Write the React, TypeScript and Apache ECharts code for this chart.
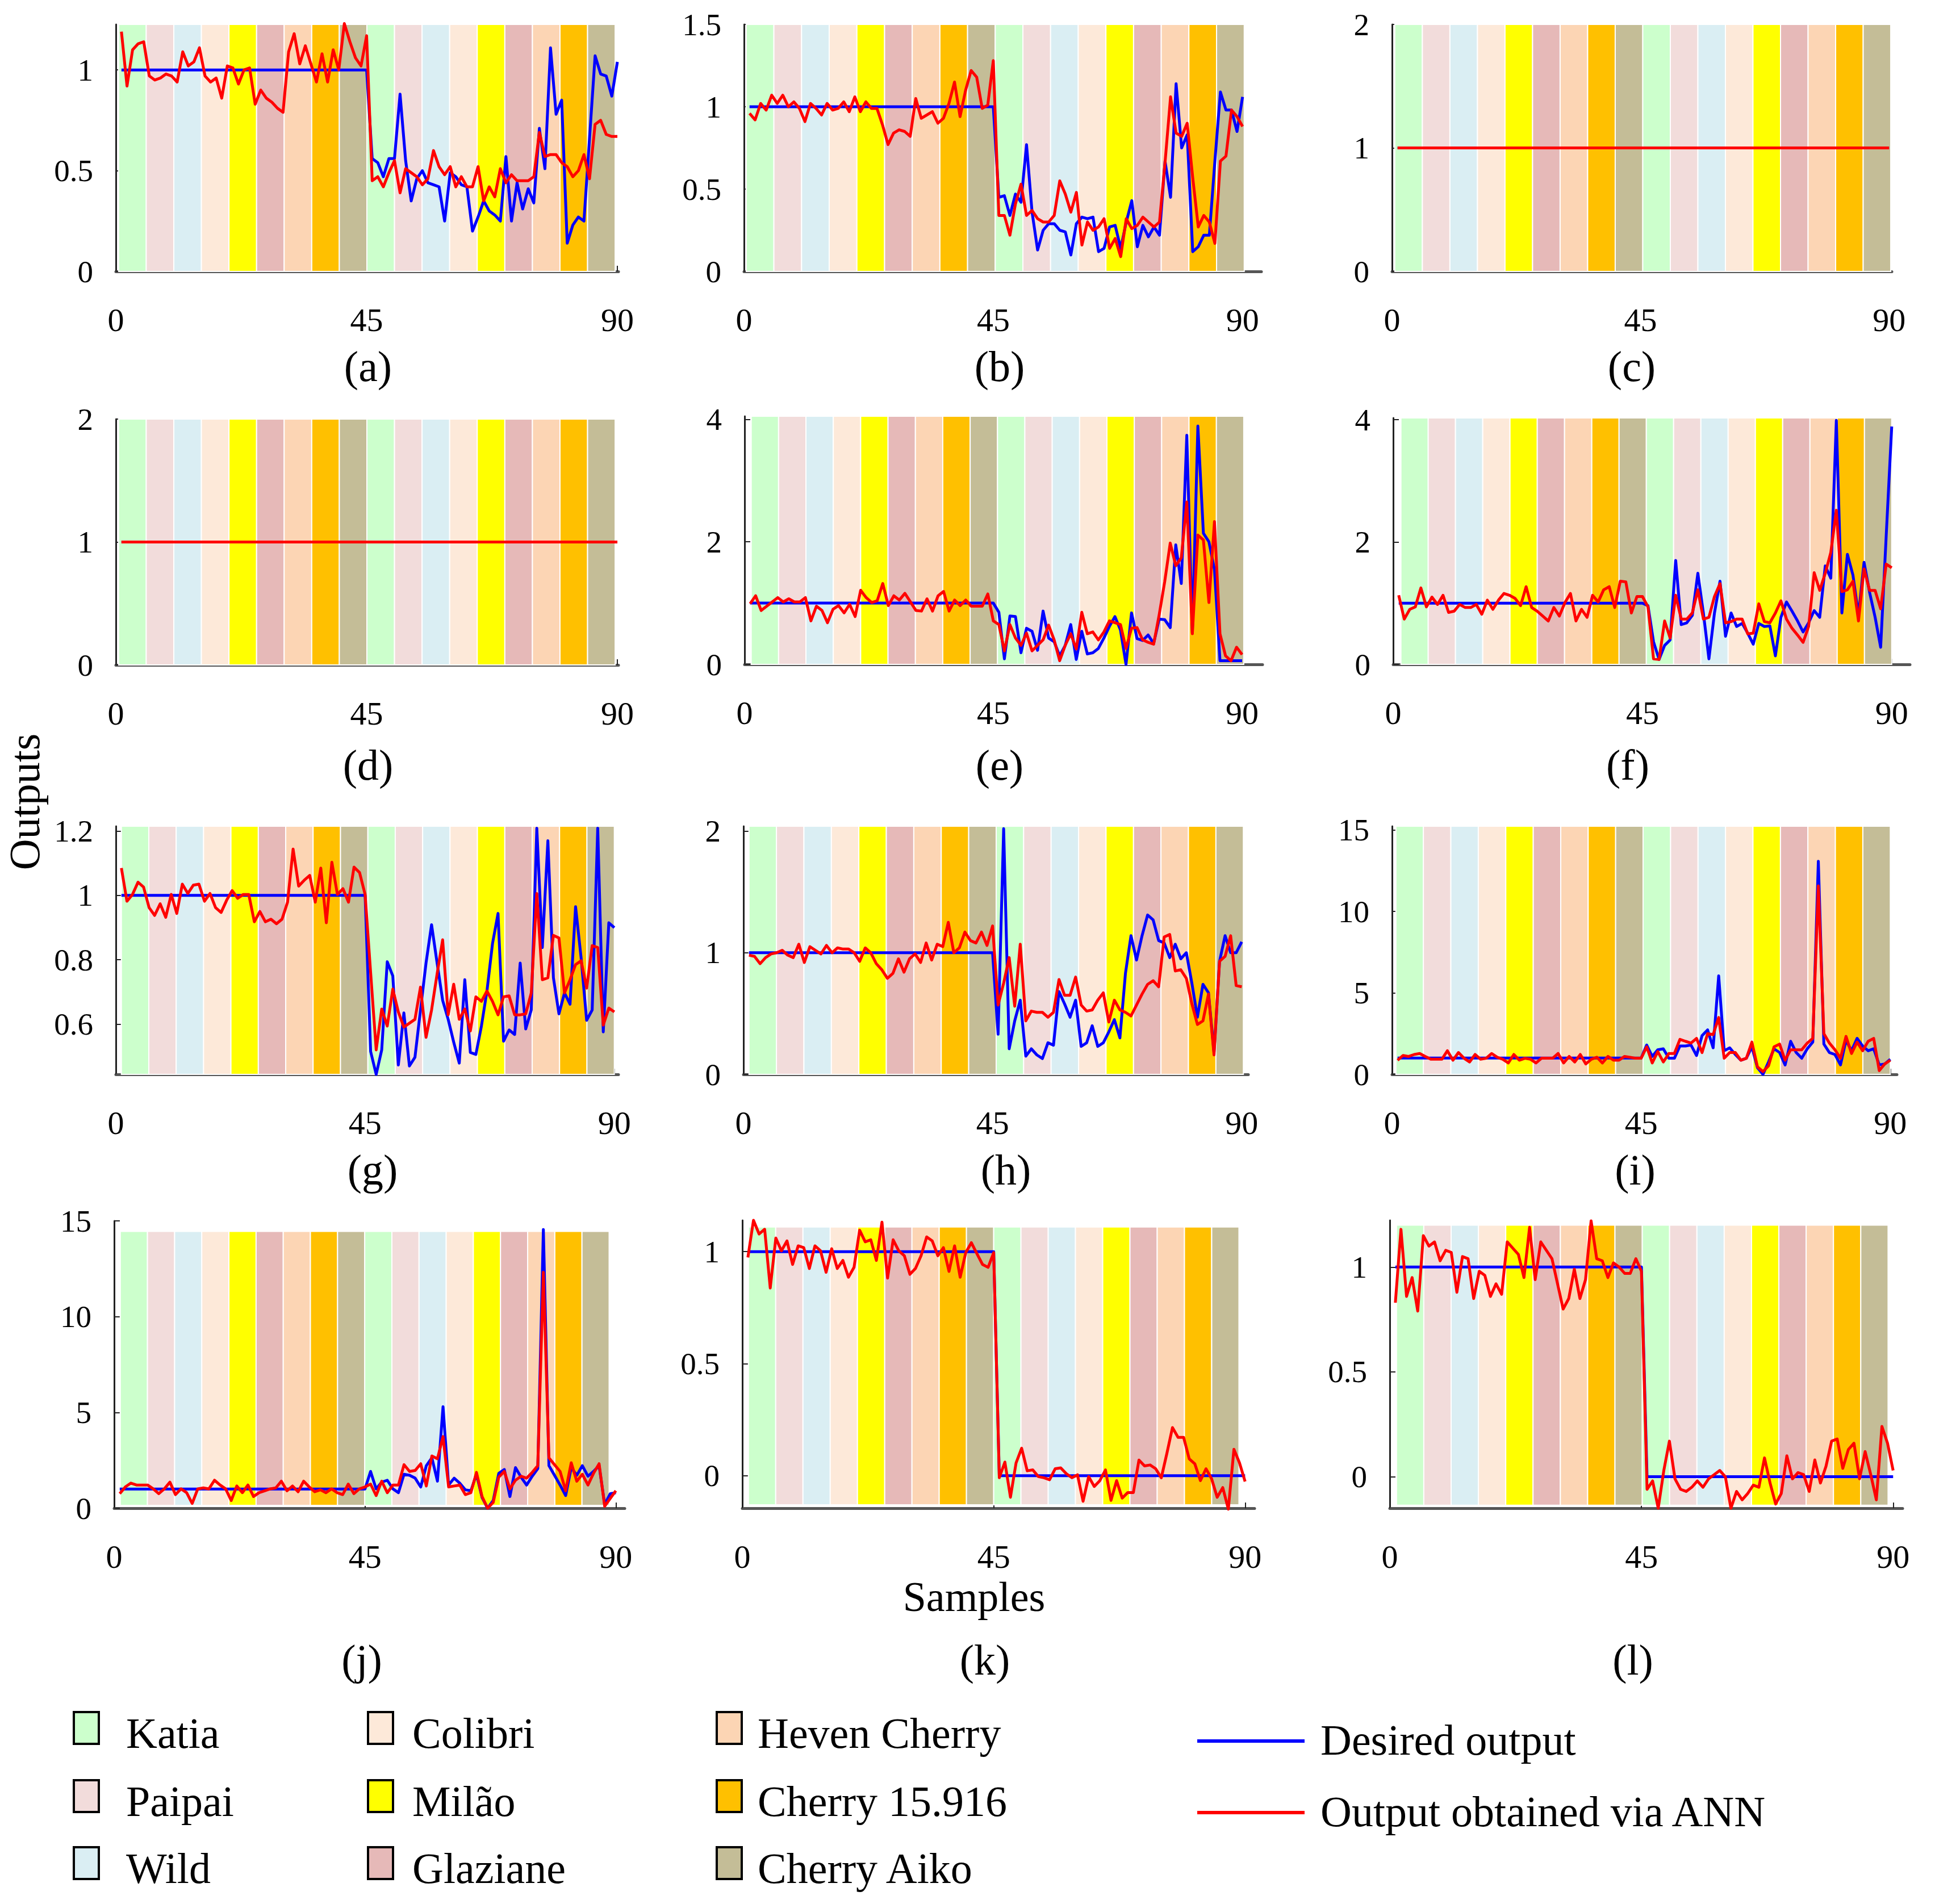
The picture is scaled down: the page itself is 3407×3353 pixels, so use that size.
import React, { useEffect, useRef } from 'react';
import * as echarts from 'echarts';

const FONT = "'Liberation Serif', 'Times New Roman', Times, serif";

const CULTIVARS = ['Katia', 'Paipai', 'Wild', 'Colibri', 'Milão', 'Glaziane', 'Heven Cherry', 'Cherry 15.916', 'Cherry Aiko'];
const BAND_COLORS = ['#CCFFCC', '#F2DCDB', '#DAEEF3', '#FDE9D9', '#FFFF00', '#E6B9B8', '#FCD5B4', '#FFC000', '#C4BD97'];
const SERIES_NAMES = ['Desired output', 'Output obtained via ANN'];
const PANEL_LABELS = ['(a)', '(b)', '(c)', '(d)', '(e)', '(f)', '(g)', '(h)', '(i)', '(j)', '(k)', '(l)'];
const X_TICKS = [0, 45, 90];
const Y_TICKS = [
  [0, 0.5, 1], [0, 0.5, 1, 1.5], [0, 1, 2],
  [0, 1, 2], [0, 2, 4], [0, 2, 4],
  [0.6, 0.8, 1, 1.2], [0, 1, 2], [0, 5, 10, 15],
  [0, 5, 10, 15], [0, 0.5, 1], [0, 0.5, 1],
];

const ONES_45 = [
  1, 1, 1, 1, 1, 1, 1, 1, 1, 1,
  1, 1, 1, 1, 1, 1, 1, 1, 1, 1,
  1, 1, 1, 1, 1, 1, 1, 1, 1, 1,
  1, 1, 1, 1, 1, 1, 1, 1, 1, 1,
  1, 1, 1, 1, 1,
];
const ZEROS_45 = [
  0, 0, 0, 0, 0, 0, 0, 0, 0, 0,
  0, 0, 0, 0, 0, 0, 0, 0, 0, 0,
  0, 0, 0, 0, 0, 0, 0, 0, 0, 0,
  0, 0, 0, 0, 0, 0, 0, 0, 0, 0,
  0, 0, 0, 0, 0,
];

// (a)
const DESIRED_A = ONES_45.concat([
  0.56, 0.54, 0.47, 0.56, 0.56, 0.88, 0.55, 0.35, 0.46, 0.50,
  0.44, 0.43, 0.42, 0.25, 0.49, 0.47, 0.43, 0.42, 0.20, 0.27,
  0.35, 0.30, 0.28, 0.25, 0.57, 0.25, 0.44, 0.31, 0.41, 0.34,
  0.71, 0.51, 1.11, 0.78, 0.85, 0.14, 0.23, 0.27, 0.25, 0.66,
  1.07, 0.98, 0.97, 0.87, 1.04,
]);
const ANN_A = [
  1.19, 0.92, 1.10, 1.13, 1.14, 0.97, 0.95, 0.96, 0.98, 0.97,
  0.94, 1.09, 1.02, 1.04, 1.11, 0.97, 0.94, 0.96, 0.86, 1.02,
  1.01, 0.93, 1.00, 1.01, 0.83, 0.90, 0.86, 0.84, 0.81, 0.79,
  1.09, 1.18, 1.03, 1.12, 1.03, 0.94, 1.08, 0.94, 1.10, 1.00,
  1.23, 1.14, 1.06, 1.02, 1.17,
  0.45, 0.47, 0.42, 0.49, 0.55, 0.39, 0.51, 0.49, 0.47, 0.43,
  0.46, 0.60, 0.52, 0.48, 0.52, 0.42, 0.47, 0.42, 0.42, 0.52,
  0.35, 0.42, 0.37, 0.51, 0.44, 0.48, 0.45, 0.45, 0.45, 0.47,
  0.69, 0.57, 0.58, 0.58, 0.54, 0.52, 0.47, 0.50, 0.58, 0.46,
  0.73, 0.75, 0.68, 0.67, 0.67,
];

// (b)
const DESIRED_B = ONES_45.concat([
  0.45, 0.46, 0.34, 0.47, 0.42, 0.77, 0.36, 0.13, 0.25, 0.29,
  0.29, 0.25, 0.24, 0.10, 0.29, 0.33, 0.32, 0.33, 0.12, 0.14,
  0.27, 0.28, 0.14, 0.30, 0.43, 0.15, 0.28, 0.21, 0.27, 0.22,
  0.67, 0.45, 1.14, 0.75, 0.83, 0.12, 0.15, 0.22, 0.22, 0.67,
  1.09, 0.98, 0.98, 0.85, 1.06,
]);
const ANN_B = [
  0.96, 0.92, 1.02, 0.98, 1.07, 1.02, 1.07, 1.00, 1.03, 0.99,
  0.91, 1.02, 0.99, 0.95, 1.02, 0.98, 0.99, 1.03, 0.97, 1.06,
  0.97, 1.03, 0.99, 0.99, 0.89, 0.77, 0.84, 0.86, 0.85, 0.82,
  1.05, 0.93, 0.95, 0.97, 0.90, 0.93, 1.02, 1.15, 0.94, 1.10,
  1.22, 1.18, 0.99, 1.01, 1.28,
  0.34, 0.34, 0.22, 0.41, 0.53, 0.34, 0.37, 0.32, 0.30, 0.30,
  0.34, 0.55, 0.47, 0.36, 0.48, 0.16, 0.30, 0.25, 0.27, 0.32,
  0.14, 0.20, 0.09, 0.32, 0.26, 0.28, 0.33, 0.30, 0.27, 0.30,
  0.66, 1.06, 0.84, 0.82, 0.90, 0.57, 0.27, 0.34, 0.30, 0.17,
  0.67, 0.70, 0.98, 0.94, 0.88,
];

// (c), (d)
const DESIRED_C = ONES_45.concat(ONES_45);
const ANN_C = ONES_45.concat(ONES_45);
const DESIRED_D = ONES_45.concat(ONES_45);
const ANN_D = ONES_45.concat(ONES_45);

// (e)
const DESIRED_E = ONES_45.concat([
  0.85, 0.09, 0.79, 0.78, 0.19, 0.59, 0.54, 0.23, 0.87, 0.43,
  0.37, 0.14, 0.31, 0.65, 0.08, 0.54, 0.17, 0.19, 0.26, 0.43,
  0.62, 0.78, 0.56, 0.00, 0.84, 0.42, 0.39, 0.48, 0.34, 0.74,
  0.73, 0.60, 1.95, 1.32, 3.74, 0.51, 3.89, 2.14, 2.00, 1.55,
  0.06, 0.06, 0.06, 0.06, 0.06,
]);
const ANN_E = [
  0.99, 1.12, 0.88, 0.95, 1.02, 1.09, 1.02, 1.07, 1.02, 1.02,
  1.09, 0.71, 0.95, 0.88, 0.68, 0.90, 0.96, 0.84, 0.98, 0.78,
  1.21, 1.09, 1.01, 1.04, 1.32, 0.96, 1.12, 1.05, 1.16, 1.02,
  0.88, 0.87, 1.07, 0.87, 1.12, 1.19, 0.87, 1.05, 0.96, 1.05,
  0.95, 0.95, 0.95, 1.15, 0.71,
  0.65, 0.22, 0.65, 0.43, 0.31, 0.51, 0.22, 0.31, 0.40, 0.64,
  0.40, 0.06, 0.31, 0.50, 0.25, 0.85, 0.50, 0.53, 0.40, 0.53,
  0.71, 0.68, 0.65, 0.26, 0.59, 0.60, 0.40, 0.36, 0.33, 0.81,
  1.35, 1.98, 1.61, 1.74, 2.65, 0.50, 2.11, 2.03, 1.01, 2.33,
  0.50, 0.14, 0.06, 0.28, 0.16,
];

// (f)
const DESIRED_F = ONES_45.concat([
  0.96, 0.37, 0.08, 0.31, 0.40, 1.70, 0.65, 0.68, 0.80, 1.49,
  0.84, 0.09, 0.84, 1.36, 0.46, 0.84, 0.62, 0.67, 0.51, 0.33,
  0.67, 0.62, 0.63, 0.14, 0.77, 1.02, 0.87, 0.71, 0.53, 0.68,
  0.88, 0.77, 1.61, 1.41, 3.99, 0.84, 1.80, 1.46, 0.80, 1.67,
  1.18, 0.77, 0.28, 2.10, 3.89,
]);
const ANN_F = [
  1.13, 0.74, 0.90, 0.94, 1.25, 0.94, 1.10, 0.98, 1.13, 0.85,
  0.87, 0.98, 0.93, 0.93, 0.98, 0.82, 1.05, 0.90, 1.05, 1.16,
  1.13, 1.08, 0.96, 1.27, 0.93, 0.87, 0.79, 0.71, 0.93, 0.79,
  1.01, 1.16, 0.71, 0.90, 0.77, 1.13, 1.02, 1.22, 1.27, 0.93,
  1.36, 1.35, 0.84, 1.11, 1.11,
  0.94, 0.09, 0.08, 0.71, 0.43, 1.13, 0.74, 0.74, 0.84, 1.22,
  0.74, 0.77, 1.11, 1.32, 0.68, 0.70, 0.74, 0.74, 0.50, 0.51,
  0.99, 0.70, 0.68, 0.84, 1.04, 0.74, 0.59, 0.48, 0.36, 0.62,
  1.50, 1.21, 1.49, 1.83, 2.52, 1.19, 1.22, 1.36, 0.71, 1.56,
  1.21, 1.21, 0.91, 1.64, 1.58,
];

// (g)
const DESIRED_G = ONES_45.concat([
  0.515, 0.444, 0.52, 0.794, 0.75, 0.473, 0.635, 0.47, 0.497, 0.644,
  0.79, 0.909, 0.79, 0.674, 0.615, 0.544, 0.479, 0.738, 0.512, 0.506,
  0.594, 0.703, 0.85, 0.944, 0.547, 0.582, 0.568, 0.79, 0.585, 0.644,
  1.209, 0.838, 1.17, 0.744, 0.632, 0.697, 0.662, 0.965, 0.806, 0.612,
  0.644, 1.209, 0.576, 0.915, 0.90,
]);
const ANN_G = [
  1.085, 0.982, 1.003, 1.041, 1.026, 0.962, 0.938, 0.974, 0.932, 1.003,
  0.944, 1.035, 1.006, 1.032, 1.035, 0.982, 1.006, 0.962, 0.947, 0.985,
  1.015, 0.991, 1.003, 1.003, 0.918, 0.95, 0.918, 0.926, 0.912, 0.926,
  0.979, 1.144, 1.029, 1.047, 1.062, 0.979, 1.085, 0.915, 1.103, 1.003,
  1.021, 0.979, 1.088, 1.071, 1.003,
  0.76, 0.52, 0.647, 0.594, 0.709, 0.638, 0.591, 0.603, 0.615, 0.715,
  0.559, 0.644, 0.756, 0.862, 0.629, 0.724, 0.615, 0.647, 0.579, 0.685,
  0.671, 0.703, 0.671, 0.629, 0.685, 0.688, 0.629, 0.629, 0.632, 0.697,
  1.006, 0.738, 0.744, 0.876, 0.868, 0.697, 0.738, 0.785, 0.797, 0.712,
  0.844, 0.838, 0.597, 0.65, 0.638,
];

// (h)
const DESIRED_H = ONES_45.concat([
  0.33, 2.02, 0.21, 0.44, 0.61, 0.15, 0.21, 0.16, 0.13, 0.26,
  0.24, 0.68, 0.58, 0.47, 0.61, 0.23, 0.26, 0.40, 0.23, 0.26,
  0.35, 0.45, 0.30, 0.83, 1.14, 0.94, 1.14, 1.31, 1.27, 1.10,
  1.08, 0.96, 1.07, 0.95, 1.00, 0.75, 0.47, 0.74, 0.67, 0.18,
  0.93, 1.14, 1.00, 1.00, 1.09,
]);
const ANN_H = [
  0.98, 0.97, 0.91, 0.96, 0.99, 1.00, 1.02, 0.98, 0.96, 1.07,
  0.92, 1.05, 1.02, 0.99, 1.06, 1.00, 1.04, 1.03, 1.03, 1.00,
  0.93, 1.04, 1.00, 0.91, 0.86, 0.79, 0.83, 0.95, 0.84, 0.95,
  0.99, 0.92, 1.08, 0.94, 1.07, 1.05, 1.25, 1.00, 1.04, 1.17,
  1.10, 1.08, 1.17, 1.06, 1.22,
  0.57, 0.75, 0.96, 0.56, 1.07, 0.44, 0.52, 0.51, 0.51, 0.47,
  0.51, 0.78, 0.65, 0.65, 0.80, 0.57, 0.52, 0.53, 0.61, 0.67,
  0.43, 0.61, 0.53, 0.51, 0.48, 0.57, 0.66, 0.74, 0.77, 0.72,
  1.13, 1.15, 0.85, 0.86, 0.79, 0.58, 0.41, 0.44, 0.66, 0.16,
  0.93, 0.97, 1.14, 0.73, 0.72,
];

// (i)
const DESIRED_I = ONES_45.concat([
  1.80, 1.10, 1.51, 1.57, 0.99, 0.99, 1.74, 1.74, 1.80, 1.16,
  2.38, 2.73, 1.63, 6.05, 1.45, 1.63, 1.22, 0.87, 0.99, 1.69,
  0.41, 0.00, 0.76, 1.57, 1.34, 0.58, 2.03, 1.34, 0.99, 1.57,
  1.98, 13.08, 1.86, 1.34, 1.22, 0.58, 2.09, 1.45, 2.21, 1.74,
  1.45, 1.57, 0.58, 0.64, 0.93,
]);
const ANN_I = [
  0.87, 1.16, 1.10, 1.22, 1.28, 1.10, 0.93, 0.93, 0.93, 1.45,
  0.87, 1.34, 0.99, 0.76, 1.22, 0.93, 0.99, 1.28, 1.05, 0.93,
  0.70, 1.22, 0.87, 0.99, 0.93, 0.70, 0.99, 0.99, 0.99, 1.28,
  0.70, 1.10, 0.76, 1.22, 0.64, 0.93, 1.05, 0.70, 1.10, 0.87,
  0.87, 1.10, 1.05, 0.99, 0.99,
  1.69, 0.70, 1.40, 0.76, 1.28, 1.28, 2.15, 2.03, 1.92, 2.21,
  1.34, 2.50, 2.44, 3.49, 0.99, 1.34, 1.34, 0.87, 0.99, 1.98,
  0.47, 0.17, 0.52, 1.69, 1.86, 0.87, 1.51, 1.51, 1.51, 1.92,
  2.21, 11.57, 2.50, 1.92, 1.51, 0.99, 2.33, 1.28, 1.98, 1.45,
  2.03, 2.21, 0.23, 0.64, 0.87,
];

// (j)
const DESIRED_J = ONES_45.concat([
  1.92, 1.01, 1.36, 1.46, 1.01, 0.81, 1.77, 1.72, 1.57, 1.11,
  2.22, 2.63, 1.41, 5.30, 1.21, 1.57, 1.31, 0.96, 0.91, 1.77,
  0.56, 0.00, 0.40, 1.82, 2.02, 0.61, 2.12, 1.62, 1.21, 1.67,
  2.07, 14.55, 2.22, 1.72, 1.21, 0.66, 2.12, 1.72, 2.22, 1.67,
  1.92, 2.22, 0.20, 0.76, 0.81,
]);
const ANN_J = [
  0.76, 1.11, 1.31, 1.21, 1.21, 1.21, 1.01, 0.76, 1.01, 1.36,
  0.71, 1.01, 0.81, 0.25, 1.01, 1.06, 1.01, 1.46, 1.21, 1.01,
  0.40, 1.16, 0.81, 1.21, 0.61, 0.81, 0.91, 1.01, 1.06, 1.41,
  0.91, 1.16, 0.86, 1.41, 1.11, 0.86, 0.96, 0.81, 1.01, 0.81,
  0.71, 1.26, 0.76, 1.01, 1.11,
  1.26, 0.66, 1.41, 0.81, 1.21, 1.21, 2.27, 1.92, 1.97, 2.32,
  1.16, 2.73, 2.58, 3.74, 1.11, 1.16, 1.21, 0.71, 0.81, 1.87,
  0.61, 0.00, 0.30, 1.62, 1.92, 1.01, 1.46, 1.67, 1.57, 1.87,
  2.22, 12.32, 2.63, 2.27, 1.92, 0.91, 2.37, 1.41, 1.77, 1.21,
  1.82, 2.32, 0.10, 0.51, 0.91,
];

// (k)
const DESIRED_K = ONES_45.concat(ZEROS_45);
const ANN_K = [
  0.974, 1.14, 1.079, 1.10, 0.838, 1.061, 1.004, 1.048, 0.943, 1.026,
  1.018, 0.925, 1.026, 1.004, 0.908, 1.013, 0.925, 0.961, 0.886, 0.93,
  1.096, 1.044, 1.053, 0.961, 1.132, 0.882, 1.053, 1.004, 0.982, 0.899,
  0.925, 0.982, 1.066, 1.048, 0.982, 1.018, 0.912, 1.026, 0.886, 0.996,
  1.04, 0.991, 0.943, 0.93, 0.996,
  -0.009, 0.061, -0.096, 0.057, 0.123, 0.022, 0.026, -0.004, -0.009, -0.018,
  0.031, 0.035, 0.009, -0.009, 0.004, -0.114, -0.004, -0.048, -0.022, 0.026,
  -0.11, -0.022, -0.10, -0.075, -0.075, 0.07, 0.044, 0.048, 0.031, -0.009,
  0.10, 0.215, 0.171, 0.171, 0.075, 0.053, -0.022, 0.031, -0.013, -0.096,
  -0.053, -0.149, 0.118, 0.057, -0.026,
];

// (l)
const DESIRED_L = ONES_45.concat(ZEROS_45);
const ANN_L = [
  0.83, 1.18, 0.86, 0.95, 0.79, 1.15, 1.10, 1.12, 1.03, 1.08,
  1.07, 0.88, 1.05, 1.04, 0.85, 0.98, 0.96, 0.86, 0.92, 0.87,
  1.12, 1.09, 1.06, 0.95, 1.19, 0.94, 1.12, 1.08, 1.04, 0.92,
  0.80, 0.85, 0.99, 0.85, 0.94, 1.22, 1.04, 1.03, 0.95, 1.02,
  1.00, 0.97, 0.97, 1.04, 0.98,
  -0.06, -0.02, -0.15, 0.03, 0.17, -0.01, -0.06, -0.07, -0.05, -0.02,
  -0.05, -0.01, 0.01, 0.03, 0.00, -0.15, -0.07, -0.11, -0.08, -0.04,
  -0.05, 0.09, -0.03, -0.13, -0.08, 0.10, -0.01, 0.02, 0.01, -0.07,
  0.08, -0.03, 0.05, 0.17, 0.18, 0.04, 0.13, 0.16, -0.01, 0.12,
  0.01, -0.11, 0.24, 0.16, 0.03,
];

const DESIRED = [DESIRED_A, DESIRED_B, DESIRED_C, DESIRED_D, DESIRED_E, DESIRED_F, DESIRED_G, DESIRED_H, DESIRED_I, DESIRED_J, DESIRED_K, DESIRED_L];
const ANN = [ANN_A, ANN_B, ANN_C, ANN_D, ANN_E, ANN_F, ANN_G, ANN_H, ANN_I, ANN_J, ANN_K, ANN_L];

// ---- layout (pixels / axis extents) ----
const GRID_BOXES = [
  [204, 43, 885, 435], [1310, 43, 911, 435], [2451, 43, 880, 435],
  [204, 738, 885, 433], [1311, 733, 912, 437], [2453, 736, 910, 434],
  [204, 1455, 885, 437], [1309, 1455, 889, 437], [2451, 1455, 889, 437],
  [201, 2150, 899, 506], [1307, 2149, 902, 507], [2447, 2149, 903, 507],
];
const X_MAX = [90.2, 93.4, 90.5, 90.2, 93.7, 93.3, 90.75, 91.2, 91.2, 91.6, 91.7, 91.7];
const Y_RANGE = [
  [0, 1.226], [0, 1.5], [0, 2],
  [0, 2], [0, 4.05], [0, 4.03],
  [0.444, 1.215], [0, 2.04], [0, 15.23],
  [0, 15], [-0.145, 1.14], [-0.15, 1.223],
];
const BAND_X = [
  [0.5, 89.6], [0.4, 90.3], [0.5, 90.3],
  [0.5, 89.6], [1.2, 90.3], [1.4, 90],
  [1.0, 90], [1.0, 90.3], [0.7, 90],
  [1.1, 88.8], [1.1, 88.9], [1.2, 89.1],
];
const BAND_Y = [
  [0, 1.226], [0, 1.5], [0, 2],
  [0, 2], [0, 4.05], [0, 4.03],
  [0.444, 1.215], [0, 2.04], [0, 15.23],
  [0.15, 14.45], [-0.13, 1.11], [-0.136, 1.2],
];
const PANEL_LABEL_POS = [
  [648, 645], [1760, 645], [2873, 645],
  [648, 1347], [1760, 1347], [2866, 1347],
  [656, 2060], [1771, 2060], [2879, 2060],
  [637, 2923], [1734, 2923], [2875, 2923],
];

function buildOption() {
  const grids = GRID_BOXES.map(([l, t, w, h]) => ({ left: l, top: t, width: w, height: h, outerBoundsMode: 'none' }));

  const xAxes = GRID_BOXES.map((_, p) => ({
    type: 'value',
    gridIndex: p,
    min: 0,
    max: X_MAX[p],
    splitLine: { show: false },
    axisLine: { show: true, onZero: false, lineStyle: { color: '#555555', width: 5 } },
    axisTick: { show: true, inside: true, length: 10, customValues: X_TICKS, lineStyle: { color: '#222222', width: 2 } },
    axisLabel: {
      show: true,
      customValues: X_TICKS,
      formatter: (v: number) => (X_TICKS.indexOf(v) >= 0 ? String(v) : ''),
      margin: 62,
      lineHeight: 46,
      fontSize: 58,
      fontFamily: FONT,
      color: '#000000',
    },
  }));

  const yAxes = GRID_BOXES.map((_, p) => ({
    type: 'value',
    gridIndex: p,
    min: Y_RANGE[p][0],
    max: Y_RANGE[p][1],
    splitLine: { show: false },
    axisLine: { show: true, onZero: false, lineStyle: { color: '#222222', width: 3 } },
    axisTick: { show: true, inside: true, length: 10, customValues: Y_TICKS[p], lineStyle: { color: '#222222', width: 2 } },
    axisLabel: {
      show: true,
      customValues: Y_TICKS[p],
      formatter: (v: number) => (Y_TICKS[p].indexOf(v) >= 0 ? String(v) : ''),
      margin: 40,
      padding: [46, 0, 0, 0],
      fontSize: 55,
      fontFamily: FONT,
      color: '#000000',
    },
  }));

  const series: any[] = [];
  GRID_BOXES.forEach((_, p) => {
    const [bx0, bx1] = BAND_X[p];
    const [by0, by1] = BAND_Y[p];
    const nBands = CULTIVARS.length * 2;
    const w = (bx1 - bx0) / nBands;
    const bands = [];
    for (let k = 0; k < nBands; k++) {
      bands.push([bx0 + k * w, bx0 + (k + 1) * w, by0, by1, k % CULTIVARS.length]);
    }
    series.push({
      type: 'custom',
      xAxisIndex: p,
      yAxisIndex: p,
      silent: true,
      z: 1,
      encode: { x: [0, 1], y: [2, 3] },
      data: bands,
      renderItem: (params: any, api: any) => {
        const a = api.coord([api.value(0), api.value(3)]);
        const b = api.coord([api.value(1), api.value(2)]);
        return {
          type: 'rect',
          shape: { x: a[0], y: a[1], width: b[0] - a[0], height: b[1] - a[1] },
          style: { fill: BAND_COLORS[api.value(4)], stroke: '#FFFFFF', lineWidth: 2 },
        };
      },
    });
    series.push({
      type: 'line',
      name: SERIES_NAMES[0],
      xAxisIndex: p,
      yAxisIndex: p,
      data: DESIRED[p].map((v, i) => [i + 1, v]),
      showSymbol: false,
      symbol: 'none',
      silent: true,
      clip: false,
      z: 3,
      lineStyle: { color: '#0000FF', width: 5, join: 'round' },
    });
    series.push({
      type: 'line',
      name: SERIES_NAMES[1],
      xAxisIndex: p,
      yAxisIndex: p,
      data: ANN[p].map((v, i) => [i + 1, v]),
      showSymbol: false,
      symbol: 'none',
      silent: true,
      clip: false,
      z: 4,
      lineStyle: { color: '#FF0000', width: 5, join: 'round' },
    });
  });

  const elements: any[] = [];
  PANEL_LABELS.forEach((t, p) => {
    elements.push({
      type: 'text',
      x: PANEL_LABEL_POS[p][0],
      y: PANEL_LABEL_POS[p][1],
      style: { text: t, fontSize: 76, fontFamily: FONT, fill: '#000000', textAlign: 'center', textVerticalAlign: 'middle' },
    });
  });
  elements.push({
    type: 'text',
    x: 1715,
    y: 2812,
    style: { text: 'Samples', fontSize: 74, lineHeight: 60, fontFamily: FONT, fill: '#000000', textAlign: 'center', textVerticalAlign: 'middle' },
  });
  elements.push({
    type: 'text',
    x: 43,
    y: 1412,
    rotation: Math.PI / 2,
    style: { text: 'Outputs', fontSize: 76, fontFamily: FONT, fill: '#000000', textAlign: 'center', textVerticalAlign: 'middle' },
  });

  const legMarkerX = [130, 648, 1262];
  const legTextX = [222, 726, 1334];
  const legRowY = [3052, 3172, 3290];
  CULTIVARS.forEach((name, k) => {
    const col = Math.floor(k / 3);
    const row = k % 3;
    elements.push({
      type: 'rect',
      shape: { x: legMarkerX[col], y: legRowY[row] - 37, width: 44, height: 56 },
      style: { fill: BAND_COLORS[k], stroke: '#000000', lineWidth: 4 },
    });
    elements.push({
      type: 'text',
      x: legTextX[col],
      y: legRowY[row],
      style: { text: name, fontSize: 76, fontFamily: FONT, fill: '#000000', textAlign: 'left', textVerticalAlign: 'middle' },
    });
  });
  const lineColors = ['#0000FF', '#FF0000'];
  const lineY = [3066, 3192];
  SERIES_NAMES.forEach((name, k) => {
    elements.push({
      type: 'line',
      shape: { x1: 2108, y1: lineY[k], x2: 2297, y2: lineY[k] },
      style: { stroke: lineColors[k], lineWidth: 6 },
    });
    elements.push({
      type: 'text',
      x: 2325,
      y: lineY[k] - 2,
      style: { text: name, fontSize: 76, fontFamily: FONT, fill: '#000000', textAlign: 'left', textVerticalAlign: 'middle' },
    });
  });

  return {
    animation: false,
    backgroundColor: '#FFFFFF',
    grid: grids,
    xAxis: xAxes,
    yAxis: yAxes,
    series,
    graphic: { elements },
  };
}

export default function App() {
  const ref = useRef<HTMLDivElement>(null);
  useEffect(() => {
    document.body.style.margin = '0';
    if (!ref.current) return;
    const chart = echarts.init(ref.current, null, { renderer: 'svg' });
    chart.setOption(buildOption() as any);
    return () => {
      chart.dispose();
    };
  }, []);
  return (
    <div
      ref={ref}
      style={{ position: 'absolute', left: 0, top: 0, width: 3407, height: 3353, background: '#FFFFFF' }}
    />
  );
}
